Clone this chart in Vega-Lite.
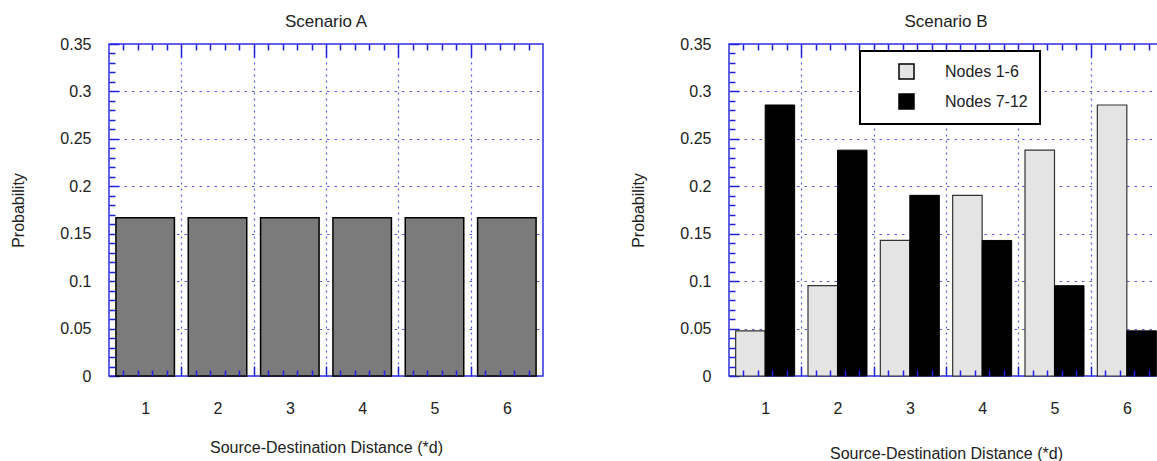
{
  "$schema": "https://vega.github.io/schema/vega-lite/v6.json",
  "padding": {"left": 10, "top": 12, "right": -5, "bottom": 0},
  "background": "white",
  "spacing": 86,
  "config": {
    "font": "Liberation Sans",
    "view": {"stroke": "#3030e0", "strokeWidth": 1.5},
    "axis": {"labelFontSize": 16, "titleFontSize": 16, "titleFontWeight": "normal", "labelColor": "#222", "titleColor": "#222", "tickColor": "#2020e0", "tickWidth": 1.5, "domain": false},
    "title": {"fontSize": 17, "fontWeight": "normal", "color": "#222", "offset": 5},
    "legend": {"strokeWidth": 2}
  },
  "datasets": {
    "scenA": [
      {"d": 1, "p": 0.1667}, {"d": 2, "p": 0.1667}, {"d": 3, "p": 0.1667},
      {"d": 4, "p": 0.1667}, {"d": 5, "p": 0.1667}, {"d": 6, "p": 0.1667}
    ],
    "scenB": [
      {"d": 1, "p": 0.0476, "nodes": "Nodes 1-6"}, {"d": 2, "p": 0.0952, "nodes": "Nodes 1-6"},
      {"d": 3, "p": 0.1429, "nodes": "Nodes 1-6"}, {"d": 4, "p": 0.1905, "nodes": "Nodes 1-6"},
      {"d": 5, "p": 0.2381, "nodes": "Nodes 1-6"}, {"d": 6, "p": 0.2857, "nodes": "Nodes 1-6"},
      {"d": 1, "p": 0.2857, "nodes": "Nodes 7-12"}, {"d": 2, "p": 0.2381, "nodes": "Nodes 7-12"},
      {"d": 3, "p": 0.1905, "nodes": "Nodes 7-12"}, {"d": 4, "p": 0.1429, "nodes": "Nodes 7-12"},
      {"d": 5, "p": 0.0952, "nodes": "Nodes 7-12"}, {"d": 6, "p": 0.0476, "nodes": "Nodes 7-12"}
    ]
  },
  "hconcat": [
    {
      "width": 434, "height": 332,
      "title": {"text": "Scenario A"},
      "data": {"name": "scenA"},
      "encoding": {
        "x": {"field": "d", "type": "quantitative", "scale": {"domain": [0.5, 6.5], "nice": false, "zero": false, "padding": 0}},
        "y": {"field": "p", "type": "quantitative", "scale": {"domain": [0, 0.35], "nice": false, "padding": 0}}
      },
      "resolve": {"axis": {"x": "independent", "y": "independent"}},
      "layer": [
        {
          "mark": {"type": "bar", "size": 58.5, "fill": "#7b7b7b", "stroke": "#000", "strokeWidth": 1.5},
          "encoding": {
            "x": {"field": "d", "type": "quantitative", "axis": {"orient": "bottom", "values": [1, 2, 3, 4, 5, 6], "ticks": false, "grid": false, "labelPadding": 24, "title": "Source-Destination Distance (*d)", "titlePadding": 23, "zindex": 1}},
            "y": {"field": "p", "type": "quantitative", "axis": {"orient": "left", "values": [0, 0.05, 0.1, 0.15, 0.2, 0.25, 0.3, 0.35], "format": "~g", "tickSize": -10, "labelPadding": 28, "grid": true, "gridColor": "#5a5aee", "gridDash": [2.5, 5], "gridWidth": 1.2, "title": "Probability", "titlePadding": 33, "zindex": 0}}
          }
        },
        {
          "mark": {"type": "point", "opacity": 0},
          "encoding": {
            "x": {"field": "d", "type": "quantitative", "axis": {"orient": "top", "values": [0.7,0.9,1.1,1.3,1.7,1.9,2.1,2.3,2.7,2.9,3.1,3.3,3.7,3.9,4.1,4.3,4.7,4.9,5.1,5.3,5.7,5.9,6.1,6.3], "tickSize": -6, "labels": false, "grid": false, "title": null, "zindex": 1}},
            "y": {"field": "p", "type": "quantitative", "axis": {"orient": "left", "values": [0.01,0.02,0.03,0.04,0.06,0.07,0.08,0.09,0.11,0.12,0.13,0.14,0.16,0.17,0.18,0.19,0.21,0.22,0.23,0.24,0.26,0.27,0.28,0.29,0.31,0.32,0.33,0.34], "tickSize": -6, "labels": false, "grid": false, "title": null, "zindex": 1}}
          }
        },
        {
          "mark": {"type": "point", "opacity": 0},
          "encoding": {
            "x": {"field": "d", "type": "quantitative", "axis": {"orient": "bottom", "values": [0.7,0.9,1.1,1.3,1.7,1.9,2.1,2.3,2.7,2.9,3.1,3.3,3.7,3.9,4.1,4.3,4.7,4.9,5.1,5.3,5.7,5.9,6.1,6.3], "tickSize": -6, "labels": false, "grid": false, "title": null, "zindex": 1}},
            "y": {"field": "p", "type": "quantitative", "axis": null}
          }
        },
        {
          "mark": {"type": "point", "opacity": 0},
          "encoding": {
            "x": {"field": "d", "type": "quantitative", "axis": {"orient": "top", "values": [1.5, 2.5, 3.5, 4.5, 5.5], "tickSize": -13, "labels": false, "grid": true, "gridColor": "#5a5aee", "gridDash": [2, 4], "gridWidth": 1.2, "title": null, "zindex": 0}},
            "y": {"field": "p", "type": "quantitative", "axis": null}
          }
        },
        {
          "mark": {"type": "point", "opacity": 0},
          "encoding": {
            "x": {"field": "d", "type": "quantitative", "axis": {"orient": "bottom", "values": [1.5, 2.5, 3.5, 4.5, 5.5], "tickSize": -10, "labels": false, "grid": false, "title": null, "zindex": 1}},
            "y": {"field": "p", "type": "quantitative", "axis": null}
          }
        }
      ]
    },
    {
      "width": 434, "height": 332,
      "title": {"text": "Scenario B"},
      "data": {"name": "scenB"},
      "encoding": {
        "x": {"field": "d", "type": "quantitative", "scale": {"domain": [0.5, 6.5], "nice": false, "zero": false, "padding": 0}},
        "y": {"field": "p", "type": "quantitative", "scale": {"domain": [0, 0.35], "nice": false, "padding": 0}}
      },
      "resolve": {"axis": {"x": "independent", "y": "independent"}},
      "layer": [
        {
          "transform": [{"filter": "datum.nodes === 'Nodes 1-6'"}],
          "mark": {"type": "bar", "size": 29.5, "xOffset": -14.75, "stroke": "#333", "strokeWidth": 1.2},
          "encoding": {
            "color": {"field": "nodes", "type": "nominal", "scale": {"domain": ["Nodes 1-6", "Nodes 7-12"], "range": ["#e4e4e4", "#000000"]},
              "legend": {"title": null, "orient": "none", "legendX": 751, "legendY": 7, "fillColor": "white", "strokeColor": "#000", "padding": 12, "symbolOffset": 26, "symbolType": "square", "symbolSize": 225, "symbolStrokeColor": "#000", "symbolStrokeWidth": 1.5, "labelFontSize": 16, "labelColor": "#222", "labelOffset": 30, "rowPadding": 9, "labelExpr": "datum.label + '\u00a0\u00a0\u00a0'"}},
            "x": {"field": "d", "type": "quantitative", "axis": {"orient": "bottom", "values": [1, 2, 3, 4, 5, 6], "ticks": false, "grid": false, "labelPadding": 24, "title": "Source-Destination Distance (*d)", "titlePadding": 29, "zindex": 1}},
            "y": {"field": "p", "type": "quantitative", "axis": {"orient": "left", "values": [0, 0.05, 0.1, 0.15, 0.2, 0.25, 0.3, 0.35], "format": "~g", "tickSize": -10, "labelPadding": 28, "grid": true, "gridColor": "#5a5aee", "gridDash": [2.5, 5], "gridWidth": 1.2, "title": "Probability", "titlePadding": 33, "zindex": 0}}
          }
        },
        {
          "transform": [{"filter": "datum.nodes === 'Nodes 7-12'"}],
          "mark": {"type": "bar", "size": 29.5, "xOffset": 14.75, "stroke": "#000", "strokeWidth": 1},
          "encoding": {
            "color": {"field": "nodes", "type": "nominal"},
            "x": {"field": "d", "type": "quantitative", "axis": null},
            "y": {"field": "p", "type": "quantitative", "axis": null}
          }
        },
        {
          "mark": {"type": "point", "opacity": 0},
          "encoding": {
            "x": {"field": "d", "type": "quantitative", "axis": {"orient": "top", "values": [0.7,0.9,1.1,1.3,1.7,1.9,2.1,2.3,2.7,2.9,3.1,3.3,3.7,3.9,4.1,4.3,4.7,4.9,5.1,5.3,5.7,5.9,6.1,6.3], "tickSize": -6, "labels": false, "grid": false, "title": null, "zindex": 1}},
            "y": {"field": "p", "type": "quantitative", "axis": {"orient": "left", "values": [0.01,0.02,0.03,0.04,0.06,0.07,0.08,0.09,0.11,0.12,0.13,0.14,0.16,0.17,0.18,0.19,0.21,0.22,0.23,0.24,0.26,0.27,0.28,0.29,0.31,0.32,0.33,0.34], "tickSize": -6, "labels": false, "grid": false, "title": null, "zindex": 1}}
          }
        },
        {
          "mark": {"type": "point", "opacity": 0},
          "encoding": {
            "x": {"field": "d", "type": "quantitative", "axis": {"orient": "bottom", "values": [0.7,0.9,1.1,1.3,1.7,1.9,2.1,2.3,2.7,2.9,3.1,3.3,3.7,3.9,4.1,4.3,4.7,4.9,5.1,5.3,5.7,5.9,6.1,6.3], "tickSize": -6, "labels": false, "grid": false, "title": null, "zindex": 1}},
            "y": {"field": "p", "type": "quantitative", "axis": null}
          }
        },
        {
          "mark": {"type": "point", "opacity": 0},
          "encoding": {
            "x": {"field": "d", "type": "quantitative", "axis": {"orient": "top", "values": [1.5, 2.5, 3.5, 4.5, 5.5], "tickSize": -13, "labels": false, "grid": true, "gridColor": "#5a5aee", "gridDash": [2, 4], "gridWidth": 1.2, "title": null, "zindex": 0}},
            "y": {"field": "p", "type": "quantitative", "axis": null}
          }
        },
        {
          "mark": {"type": "point", "opacity": 0},
          "encoding": {
            "x": {"field": "d", "type": "quantitative", "axis": {"orient": "bottom", "values": [1.5, 2.5, 3.5, 4.5, 5.5], "tickSize": -10, "labels": false, "grid": false, "title": null, "zindex": 1}},
            "y": {"field": "p", "type": "quantitative", "axis": null}
          }
        }
      ]
    }
  ]
}
